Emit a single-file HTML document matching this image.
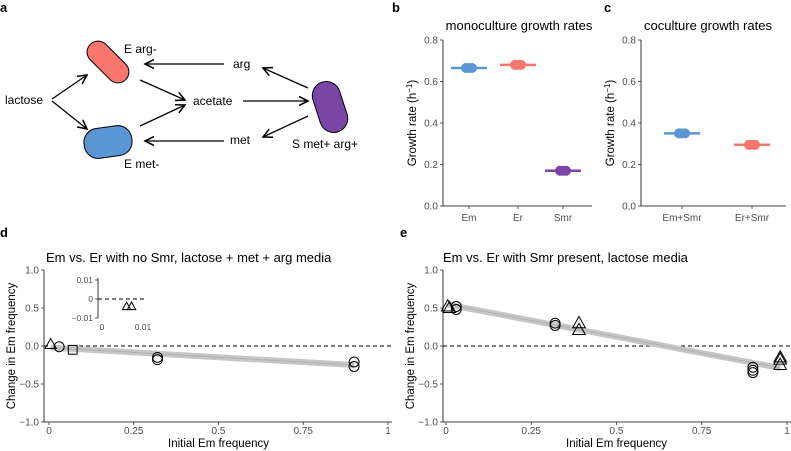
<!DOCTYPE html>
<html><head><meta charset="utf-8"><style>
body{margin:0;background:#fff}
svg{font-family:"Liberation Sans",Arial,sans-serif;display:block}
</style></head><body>
<svg id="fig" width="791" height="451" viewBox="0 0 791 451">
<defs><marker id="ah" markerWidth="8" markerHeight="8" refX="7" refY="4" orient="auto"><path d="M0,0.5 L7,4 L0,7.5" fill="none" stroke="#000" stroke-width="1.2"/></marker></defs>
<g>
<text x="0" y="12" font-weight="bold" font-size="13">a</text>
<rect x="-25" y="-11" width="50" height="22" rx="11" fill="#f8766d" stroke="#000" stroke-width="1" transform="translate(108,62) rotate(45)"/>
<rect x="-24" y="-15" width="48" height="30" rx="14" fill="#5a95d4" stroke="#000" stroke-width="1" transform="translate(108,142) rotate(-8)"/>
<rect x="-14" y="-26" width="28" height="52" rx="14" fill="#7b45a6" stroke="#000" stroke-width="1" transform="translate(330,107) rotate(-18)"/>
<g font-size="12">
<text x="5" y="104">lactose</text><text x="124" y="53">E arg-</text><text x="233" y="68">arg</text>
<text x="193" y="105">acetate</text><text x="230" y="144">met</text><text x="292" y="148">S met+ arg+</text><text x="124" y="168">E met-</text>
</g>
<g stroke="#000" stroke-width="1.3" fill="none" marker-end="url(#ah)">
<line x1="52" y1="99" x2="87" y2="75"/><line x1="52" y1="101" x2="87" y2="129"/>
<line x1="140" y1="80" x2="185" y2="100"/><line x1="140" y1="126" x2="185" y2="105"/>
<line x1="243" y1="101" x2="308" y2="101"/><line x1="224" y1="64" x2="145" y2="64"/>
<line x1="224" y1="141" x2="145" y2="141"/><line x1="308" y1="88" x2="263" y2="68"/><line x1="308" y1="116" x2="263" y2="137"/>
</g></g>
<g id="gb"></g><g id="gc"></g><g id="gd"></g><g id="ge"></g>
</svg>
<script>
const NS="http://www.w3.org/2000/svg";
function mk(p,t,a,txt){const e=document.createElementNS(NS,t);for(const k in a)e.setAttribute(k,a[k]);if(txt!==undefined)e.textContent=txt;p.appendChild(e);return e;}
// panel b / c data
const bCats=["Em","Er","Smr"];
const bVals=[0.665,0.68,0.17];
const bCols=["#5a95d4","#f8766d","#7b45a6"];
const cCats=["Em+Smr","Er+Smr"];
const cVals=[0.35,0.295];
const cCols=["#5a95d4","#f8766d"];
const rateTicks=[0,0.2,0.4,0.6,0.8];
// panel d data
const dX=[0.005,0.03,0.07,0.32,0.32,0.9,0.9];
const dY=[0.02,-0.01,-0.05,-0.15,-0.18,-0.21,-0.27];
const dShape=["tri","circ","sq","circ","circ","circ","circ"];
const dFit=[-0.02,-0.25];
const insetX=[0.006,0.0072];
const insetY=[-0.004,-0.004];
// panel e data
const eX=[0.005,0.01,0.03,0.03,0.32,0.32,0.39,0.39,0.9,0.9,0.9,0.98,0.98,0.98];
const eY=[0.52,0.5,0.52,0.48,0.3,0.27,0.3,0.21,-0.28,-0.32,-0.35,-0.15,-0.18,-0.25];
const eShape=["tri","tri","circ","circ","circ","circ","tri","tri","circ","circ","circ","tri","tri","tri"];
const eFit=[0.55,-0.29];
const freqTicks=[0,0.25,0.5,0.75,1];
const freqLabels=["0","0.25","0.5","0.75","1"];
const chgTicks=[-1,-0.5,0,0.5,1];
const chgLabels=["\u22121.0","\u22120.5","0.0","0.5","1.0"];

function rateChart(g,label,lx,title,tx,ax,xend,cats,vals,cols,cx){
  const y=v=>206-(v/0.8)*166;
  mk(g,"text",{x:lx,y:12,"font-weight":"bold","font-size":13,},label);
  mk(g,"text",{x:tx,y:30,"font-size":13,"text-anchor":"middle",},title);
  mk(g,"line",{x1:ax,y1:40,x2:ax,y2:206,stroke:"#000","stroke-width":0.8,});
  mk(g,"line",{x1:ax,y1:206,x2:xend,y2:206,stroke:"#000","stroke-width":0.8,});
  rateTicks.forEach(t=>{const yy=y(t);
    mk(g,"line",{x1:ax-3,y1:yy,x2:ax,y2:yy,stroke:"#333","stroke-width":0.8});
    const tl=mk(g,"text",{x:ax-5,y:yy+3.5,"font-size":10,fill:"#4d4d4d","text-anchor":"end"},t.toFixed(1));
    
    });
  const yt=mk(g,"text",{transform:`translate(${ax-27},123) rotate(-90)`,"font-size":11.5,"text-anchor":"middle"});
  
  
  yt.innerHTML='Growth rate (h<tspan dy="-4" font-size="8">\u22121</tspan><tspan dy="4">)</tspan>';
  cats.forEach((c,i)=>{const x=cx[i];
    mk(g,"line",{x1:x,y1:206,x2:x,y2:209,stroke:"#333","stroke-width":0.8});
    const tl=mk(g,"text",{x:x,y:221,"font-size":10,fill:"#4d4d4d","text-anchor":"middle"},c);
    
    
    const yy=y(vals[i]);
    const ln=mk(g,"line",{x1:x-18,y1:yy,x2:x+18,y2:yy,stroke:cols[i],"stroke-width":2.5});
    
    
    [-3,0,3].forEach(o=>{const p=mk(g,"circle",{cx:x+o,cy:yy,r:5,fill:cols[i]});
      
      });
  });
}
rateChart(document.getElementById("gb"),"b",392,"monoculture growth rates",519,443,592,bCats,bVals,bCols,[469,518,563]);
rateChart(document.getElementById("gc"),"c",604,"coculture growth rates",708,641,786,cCats,cVals,cCols,[682,752]);

function marker(g,sh,x,y,s){
  let e;
  if(sh==="circ") e=mk(g,"circle",{cx:x,cy:y,r:s*0.62});
  else if(sh==="sq") e=mk(g,"rect",{x:x-s*0.55,y:y-s*0.55,width:s*1.1,height:s*1.1});
  else e=mk(g,"path",{d:`M${x},${y-s*0.75} L${x+s*0.7},${y+s*0.5} L${x-s*0.7},${y+s*0.5}Z`});
  e.setAttribute("fill","none");e.setAttribute("stroke","#000");e.setAttribute("stroke-width","1");
  
  
}
function freqChart(g,label,ax,x0,x1,xend,title,tleft,xs,ys,shapes,fit,labelX){
  const X=v=>x0+v*(x1-x0), Y=v=>346-v*76;
  mk(g,"text",{x:labelX,y:237,"font-weight":"bold","font-size":13,},label);
  mk(g,"text",{x:tleft,y:262,"font-size":13,},title);
  mk(g,"line",{x1:ax,y1:270,x2:ax,y2:422,stroke:"#000","stroke-width":0.8,});
  mk(g,"line",{x1:ax,y1:422,x2:xend,y2:422,stroke:"#000","stroke-width":0.8,});
  chgTicks.forEach((t,i)=>{const yy=Y(t);
    mk(g,"line",{x1:ax-3,y1:yy,x2:ax,y2:yy,stroke:"#333","stroke-width":0.8});
    const tl=mk(g,"text",{x:ax-5,y:yy+3.5,"font-size":10,fill:"#4d4d4d","text-anchor":"end"},chgLabels[i]);
    
    });
  freqTicks.forEach((t,i)=>{const xx=X(t);
    mk(g,"line",{x1:xx,y1:422,x2:xx,y2:425,stroke:"#333","stroke-width":0.8});
    const tl=mk(g,"text",{x:xx,y:434,"font-size":10,fill:"#4d4d4d","text-anchor":"middle"},freqLabels[i]);
    
    });
  const yt=mk(g,"text",{transform:`translate(${ax-29},346) rotate(-90)`,"font-size":11.5,"text-anchor":"middle"},"Change in Em frequency");
  
  
  const xt=mk(g,"text",{x:(x0+x1)/2,y:447,"font-size":11.5,"text-anchor":"middle"},"Initial Em frequency");
  
  
  const zl=mk(g,"line",{x1:ax,y1:Y(0),x2:xend,y2:Y(0),stroke:"#000","stroke-width":1,"stroke-dasharray":"4,3"});
  
  
  const xmax=Math.max(...xs), xmin=Math.min(...xs);
  const f=v=>fit[0]+(fit[1]-fit[0])*v/xmax;
  const band=mk(g,"line",{x1:X(xmin),y1:Y(f(xmin)),x2:X(xmax),y2:Y(f(xmax)),stroke:"#c6c6c6","stroke-width":6});
  
  
  const fl=mk(g,"line",{x1:X(xmin),y1:Y(f(xmin)),x2:X(xmax),y2:Y(f(xmax)),stroke:"#b0b0b0","stroke-width":1});
  
  
  xs.forEach((x,i)=>marker(g,shapes[i],X(x),Y(ys[i]),label==="e"&&shapes[i]==="tri"?9:8));
  return {X,Y};
}
freqChart(document.getElementById("gd"),"d",44,49,388,392,"Em vs. Er with no Smr, lactose + met + arg media",46,dX,dY,dShape,dFit,0);
freqChart(document.getElementById("ge"),"e",443,446,787,791,"Em vs. Er with Smr present, lactose media",443,eX,eY,eShape,eFit,400);
// inset
(function(){
  const g=document.getElementById("gd");
  const X=v=>102+v/0.01*41, Y=v=>299-v/0.01*19;
  mk(g,"line",{x1:98,y1:278,x2:98,y2:318,stroke:"#000","stroke-width":0.8,});
  [[0.01,"0.01"],[0,"0"],[-0.01,"\u22120.01"]].forEach(([t,l])=>{
    mk(g,"line",{x1:95,y1:Y(t),x2:98,y2:Y(t),stroke:"#333","stroke-width":0.8});
    const tl=mk(g,"text",{x:93,y:Y(t)+3,"font-size":8.5,fill:"#4d4d4d","text-anchor":"end"},l);
    
    });
  [[0,"0"],[0.01,"0.01"]].forEach(([t,l])=>{
    const tl=mk(g,"text",{x:X(t),y:330,"font-size":8.5,fill:"#4d4d4d","text-anchor":"middle"},l);
    
    });
  mk(g,"line",{x1:98,y1:Y(0),x2:145,y2:Y(0),stroke:"#000","stroke-width":1,"stroke-dasharray":"4,3",});
  insetX.forEach((x,i)=>marker(g,"tri",X(x),Y(insetY[i]),6));
})();
</script>
</body></html>
